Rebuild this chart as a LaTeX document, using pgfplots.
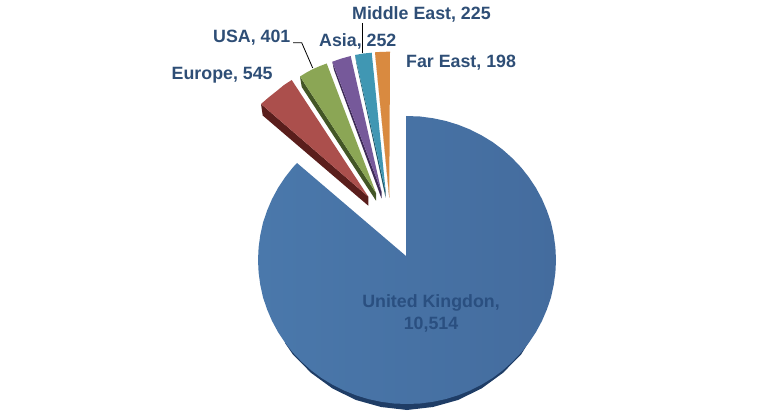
\documentclass[border=0pt]{standalone}
\usepackage{pgfplots}
\pgfplotsset{compat=1.18}
\usepackage{fontspec}
\setmainfont{Liberation Sans}
\definecolor{labelblue}{HTML}{2E4E76}
\definecolor{ukleft}{HTML}{4A78AB}
\definecolor{ukright}{HTML}{446C9E}
\definecolor{ukdark}{HTML}{1F3D66}
\definecolor{uktext}{HTML}{2A4F80}
\definecolor{redtop}{HTML}{AB4F4C}
\definecolor{reddark}{HTML}{5A1E1C}
\definecolor{greentop}{HTML}{8BA655}
\definecolor{greendark}{HTML}{435626}
\definecolor{purpletop}{HTML}{76599A}
\definecolor{purpledark}{HTML}{3F2C58}
\definecolor{tealtop}{HTML}{4097B3}
\definecolor{tealdark}{HTML}{20586A}
\definecolor{orangetop}{HTML}{D98A40}
\definecolor{orangedark}{HTML}{A0652E}
\tikzset{lab/.style={font=\fontsize{17.8}{21}\selectfont\bfseries, text=labelblue, inner sep=0pt}}
\begin{document}
\begin{tikzpicture}
\useasboundingbox (0,0) rectangle (777pt,417pt);
\begin{axis}[
	scale only axis,
	width=777pt,
	height=417pt,
	xmin=0, xmax=777,
	ymin=0, ymax=417,
	y dir=reverse,
	hide axis,
	]
	% shadow under the big slice
	\addplot[fill=ukdark, draw=none] coordinates {(530,340)(521.1,354.5)(502.8,373)(481.5,388.5)(458,400)(432.9,407)(407,410)(381.1,407)(356,400)(332.5,388.5)(311.2,373)(292.9,354.5)(285,343)} -- cycle;
	% United Kingdon
	\addplot[draw=none, left color=ukleft, right color=ukright] coordinates {(406,256)(406,116)(420,116.5)(432.9,118.2)(445.6,120.9)(458,124.7)(470,129.5)(481.5,135.3)(492.5,142)(502.8,149.7)(512.3,158.2)(521.1,167.4)(529,177.4)(536,188)(542,199.1)(547,210.8)(551,222.7)(553.7,235)(555.4,247.4)(556,260)(555.4,272.6)(553.7,285)(551,297.3)(547,309.2)(542,320.9)(536,332)(529,342.6)(521.1,352.6)(512.3,361.8)(502.8,370.3)(492.5,378)(481.5,384.7)(470,390.5)(458,395.3)(445.6,399.1)(432.9,401.8)(420,403.5)(407,404)(394,403.5)(381.1,401.8)(368.4,399.1)(356,395.3)(344,390.5)(332.5,384.7)(321.5,378)(311.2,370.3)(301.7,361.8)(292.9,352.6)(285,342.6)(278,332)(272,320.9)(267,309.2)(263,297.3)(260.3,285)(258.6,272.6)(258,260)(258.6,247.4)(260.3,235)(263,222.7)(267,210.8)(272,199.1)(278,188)(285,177.4)(292.9,167.4)(297,163)} -- cycle;
	% Europe
	\addplot[fill=reddark, draw=none] coordinates {(261,104)(262.7,115.5)(368.3,205.7)(368.3,196.7)} -- cycle;
	\addplot[fill=redtop, draw=none] coordinates {(261,104)(268.5,97.5)(276.7,91)(284,85)(291.7,80)(368.3,196.7)} -- cycle;
	% USA
	\addplot[fill=greendark, draw=none] coordinates {(300,76.5)(301.7,87)(376,200.7)(376,193)} -- cycle;
	\addplot[fill=greentop, draw=none] coordinates {(300,76.5)(306.5,72.5)(313,69)(320,66)(326.7,63.5)(376,193)} -- cycle;
	% Asia
	\addplot[fill=purpledark, draw=none] coordinates {(332.3,61.7)(334,70)(381.5,198.5)(381.5,191.7)} -- cycle;
	\addplot[fill=purpletop, draw=none] coordinates {(332.3,61.7)(341.5,58.5)(350.7,56)(381.5,191.7)} -- cycle;
	% Middle East
	\addplot[fill=tealdark, draw=none] coordinates {(355,55)(356.7,65)(385.7,198)(385.7,191.7)} -- cycle;
	\addplot[fill=tealtop, draw=none] coordinates {(355,55)(363.5,53.5)(371.7,52.7)(385.7,191.7)} -- cycle;
	% Far East
	\addplot[fill=orangedark, draw=none] coordinates {(375,52.3)(376,62)(389.3,198)(389.3,196.7)} -- cycle;
	\addplot[fill=orangetop, draw=none] coordinates {(375,52.3)(382.5,51.8)(390,51.7)(389.3,196.7)} -- cycle;
	% leader lines
	\addplot[black, line width=0.8pt] coordinates {(293,42.7)(301.7,42.7)(312.7,68)};
	\addplot[black, line width=0.8pt] coordinates {(362.3,23)(362.3,53)};
	% labels
	\node[lab, anchor=west] at (axis cs:171.5,75) {Europe, 545};
	\node[lab, anchor=west] at (axis cs:213,38) {USA, 401};
	\node[lab, anchor=west] at (axis cs:319,41) {Asia, 252};
	\node[lab, anchor=west] at (axis cs:352,14) {Middle East, 225};
	\node[lab, anchor=west] at (axis cs:406,63) {Far East, 198};
	\node[lab, text=uktext, anchor=center] at (axis cs:431,303) {United Kingdon,};
	\node[lab, text=uktext, anchor=center] at (axis cs:431,325) {10,514};
\end{axis}
\end{tikzpicture}
\end{document}
